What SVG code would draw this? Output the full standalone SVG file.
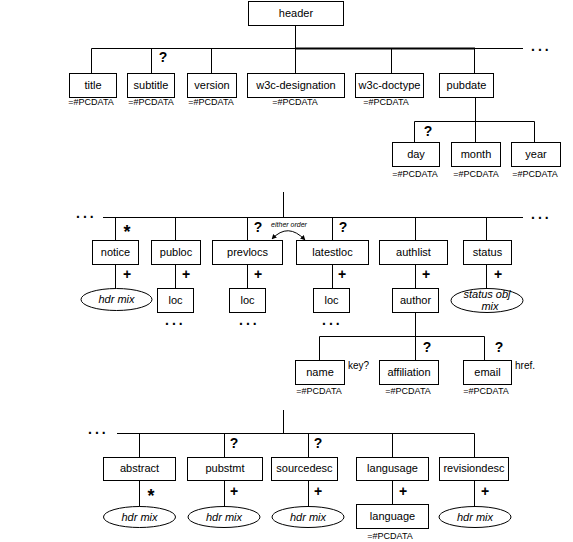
<svg xmlns="http://www.w3.org/2000/svg" width="573" height="542" viewBox="0 0 573 542">
<style>
.b{fill:#fff;stroke:#000;stroke-width:1}
.e{fill:#fff;stroke:#000;stroke-width:1}
.l{stroke:#000;stroke-width:1;fill:none}
.t{font-family:"Liberation Sans",Arial,sans-serif;font-size:11px;text-anchor:middle}
.i{font-family:"Liberation Sans",Arial,sans-serif;font-size:11px;font-style:italic;text-anchor:middle}
.p{font-family:"Liberation Sans",Arial,sans-serif;font-size:9px;text-anchor:middle}
.s{font-family:"Liberation Sans",Arial,sans-serif;font-size:14px;font-weight:bold;text-anchor:middle}
.a{font-family:"Liberation Sans",Arial,sans-serif;font-size:18px;font-weight:bold;text-anchor:middle}
.n{font-family:"Liberation Sans",Arial,sans-serif;font-size:10px}
.d{font-family:"Liberation Sans",Arial,sans-serif;font-size:14px;font-weight:bold;letter-spacing:3px}
</style>
<defs>
<marker id="ah" viewBox="0 0 10 10" refX="9" refY="5" markerWidth="5" markerHeight="5" orient="auto-start-reverse"><path d="M0,0 L10,5 L0,10 z" fill="#000"/></marker>
</defs>
<rect width="573" height="542" fill="#fff"/>
<g id="connectors">
<path class="l" d="M295.5,25 V48.5 M91.5,48.5 H523 M91.5,48.5 V73 M151.5,48.5 V73 M211.5,48.5 V73 M295.5,48.5 V73 M391.5,48.5 V73 M474.5,48.5 V73"/>
<path d="M295,48.5 H475" stroke="#000" stroke-width="2"/>
<path class="l" d="M475.5,97 V121.5 M414.5,121.5 H534.5 M414.5,121.5 V142 M475.5,121.5 V142 M534.5,121.5 V142"/>
<path class="l" d="M283.5,192 V217.5 M103,217.5 H523 M115.5,217.5 V240 M175.5,217.5 V240 M247.5,217.5 V240 M332.5,217.5 V240 M415.5,217.5 V240 M486.5,217.5 V240"/>
<path class="l" d="M115.5,264 V288 M175.5,264 V288 M247.5,264 V288 M332.5,264 V288 M415.5,264 V288 M486.5,264 V288"/>
<path class="l" d="M415.5,312 V336.5 M319.5,336.5 H484.5 M319.5,336.5 V360 M415.5,336.5 V360 M484.5,336.5 V360"/>
<path class="l" d="M283.5,410 V433.5 M117,433.5 H474.5 M139.5,433.5 V457 M224.5,433.5 V457 M308.5,433.5 V457 M392.5,433.5 V457 M474.5,433.5 V457"/>
<path class="l" d="M139.5,480 V507 M224.5,480 V507 M308.5,480 V507 M392.5,480 V504 M474.5,480 V507"/>
<path class="l" d="M272,239 Q288,222 305,240" marker-start="url(#ah)" marker-end="url(#ah)"/>
</g>
<g id="header"><rect class="b" x="248.5" y="1.5" width="95" height="24"/><text class="t" x="296" y="17">header</text></g>
<g id="title"><rect class="b" x="69.5" y="73.5" width="47" height="24"/><text class="t" x="93" y="89">title</text><text class="p" x="91" y="105">=#PCDATA</text></g>
<g id="subtitle"><rect class="b" x="127.5" y="73.5" width="47" height="24"/><text class="t" x="151" y="89">subtitle</text><text class="p" x="151" y="105">=#PCDATA</text><text class="s" x="163" y="62">?</text></g>
<g id="version"><rect class="b" x="187.5" y="73.5" width="49" height="24"/><text class="t" x="212" y="89">version</text><text class="p" x="211" y="105">=#PCDATA</text></g>
<g id="w3c-designation"><rect class="b" x="247.5" y="73.5" width="97" height="24"/><text class="t" x="296" y="89">w3c-designation</text><text class="p" x="295" y="105">=#PCDATA</text></g>
<g id="w3c-doctype"><rect class="b" x="355.5" y="73.5" width="68" height="24"/><text class="t" x="389.5" y="89">w3c-doctype</text><text class="p" x="386" y="105">=#PCDATA</text></g>
<g id="pubdate"><rect class="b" x="439.5" y="73.5" width="54" height="24"/><text class="t" x="466.5" y="89">pubdate</text></g>
<text class="d" x="531" y="51">...</text>
<g id="day"><rect class="b" x="392.5" y="142.5" width="47" height="24"/><text class="t" x="416" y="158">day</text><text class="p" x="415" y="177">=#PCDATA</text><text class="s" x="428" y="136">?</text></g>
<g id="month"><rect class="b" x="451.5" y="142.5" width="49" height="24"/><text class="t" x="476" y="158">month</text><text class="p" x="476" y="177">=#PCDATA</text></g>
<g id="year"><rect class="b" x="511.5" y="142.5" width="49" height="24"/><text class="t" x="536" y="158">year</text><text class="p" x="535" y="177">=#PCDATA</text></g>
<text class="d" x="76" y="218">...</text>
<text class="d" x="531" y="219">...</text>
<g id="notice"><rect class="b" x="92.5" y="240.5" width="46" height="24"/><text class="t" x="115.5" y="256">notice</text><text class="a" x="127" y="238">*</text><text class="s" x="127" y="279">+</text>
<ellipse class="e" cx="116.5" cy="299.5" rx="35.5" ry="11"/><text class="i" x="116.5" y="303">hdr mix</text></g>
<g id="publoc"><rect class="b" x="151.5" y="240.5" width="49" height="24"/><text class="t" x="176" y="256">publoc</text><text class="s" x="186" y="279">+</text>
<rect class="b" x="157.5" y="288.5" width="36" height="24"/><text class="t" x="175.5" y="304">loc</text><text class="d" x="165" y="325">...</text></g>
<g id="prevlocs"><rect class="b" x="212.5" y="240.5" width="70" height="24"/><text class="t" x="247.5" y="256">prevlocs</text><text class="s" x="258" y="232">?</text><text class="s" x="258" y="279">+</text>
<rect class="b" x="229.5" y="288.5" width="36" height="24"/><text class="t" x="247.5" y="304">loc</text><text class="d" x="239" y="325">...</text></g>
<text x="289" y="227" font-family="Liberation Sans,Arial,sans-serif" font-size="7" font-style="italic" text-anchor="middle">either order</text>
<g id="latestloc"><rect class="b" x="296.5" y="240.5" width="72" height="24"/><text class="t" x="332.5" y="256">latestloc</text><text class="s" x="343" y="232">?</text><text class="s" x="342" y="279">+</text>
<rect class="b" x="313.5" y="288.5" width="36" height="24"/><text class="t" x="331.5" y="304">loc</text><text class="d" x="322" y="325">...</text></g>
<g id="authlist"><rect class="b" x="379.5" y="240.5" width="68" height="24"/><text class="t" x="413.5" y="256">authlist</text><text class="s" x="426" y="279">+</text></g>
<g id="author"><rect class="b" x="392.5" y="288.5" width="46" height="24"/><text class="t" x="415.5" y="304">author</text></g>
<g id="status"><rect class="b" x="463.5" y="240.5" width="48" height="24"/><text class="t" x="487.5" y="256">status</text><text class="s" x="498" y="279">+</text>
<ellipse class="e" cx="487" cy="300.5" rx="36" ry="12"/><text class="i" x="487" y="298">status obj</text><text class="i" x="490" y="310">mix</text></g>
<g id="name"><rect class="b" x="295.5" y="360.5" width="49" height="24"/><text class="t" x="320" y="376">name</text><text class="p" x="319" y="394">=#PCDATA</text><text class="n" x="348" y="369">key?</text></g>
<g id="affiliation"><rect class="b" x="379.5" y="360.5" width="59" height="24"/><text class="t" x="409" y="376">affiliation</text><text class="p" x="408" y="394">=#PCDATA</text><text class="s" x="427" y="352">?</text></g>
<g id="email"><rect class="b" x="463.5" y="360.5" width="48" height="24"/><text class="t" x="487.5" y="376">email</text><text class="p" x="486" y="394">=#PCDATA</text><text class="s" x="499" y="352">?</text><text class="n" x="515" y="369">href.</text></g>
<text class="d" x="88" y="434">...</text>
<g id="abstract"><rect class="b" x="103.5" y="457.5" width="72" height="23"/><text class="t" x="139.5" y="472">abstract</text><text class="a" x="151" y="502">*</text>
<ellipse class="e" cx="139.5" cy="517" rx="36" ry="10.5"/><text class="i" x="139.5" y="521">hdr mix</text></g>
<g id="pubstmt"><rect class="b" x="187.5" y="457.5" width="75" height="23"/><text class="t" x="225" y="472">pubstmt</text><text class="s" x="234" y="448">?</text><text class="s" x="234" y="496">+</text>
<ellipse class="e" cx="224" cy="517" rx="36" ry="10.5"/><text class="i" x="224" y="521">hdr mix</text></g>
<g id="sourcedesc"><rect class="b" x="271.5" y="457.5" width="66" height="23"/><text class="t" x="304.5" y="472">sourcedesc</text><text class="s" x="318" y="448">?</text><text class="s" x="318" y="496">+</text>
<ellipse class="e" cx="308" cy="517" rx="36" ry="10.5"/><text class="i" x="308" y="521">hdr mix</text></g>
<g id="langusage"><rect class="b" x="356.5" y="457.5" width="72" height="23"/><text class="t" x="392.5" y="472">langusage</text><text class="s" x="403" y="496">+</text></g>
<g id="language"><rect class="b" x="356.5" y="504.5" width="72" height="24"/><text class="t" x="392.5" y="520">language</text><text class="p" x="390" y="539">=#PCDATA</text></g>
<g id="revisiondesc"><rect class="b" x="439.5" y="457.5" width="69" height="23"/><text class="t" x="474" y="472">revisiondesc</text><text class="s" x="485" y="496">+</text>
<ellipse class="e" cx="475" cy="517" rx="36" ry="10.5"/><text class="i" x="475" y="521">hdr mix</text></g>
</svg>
